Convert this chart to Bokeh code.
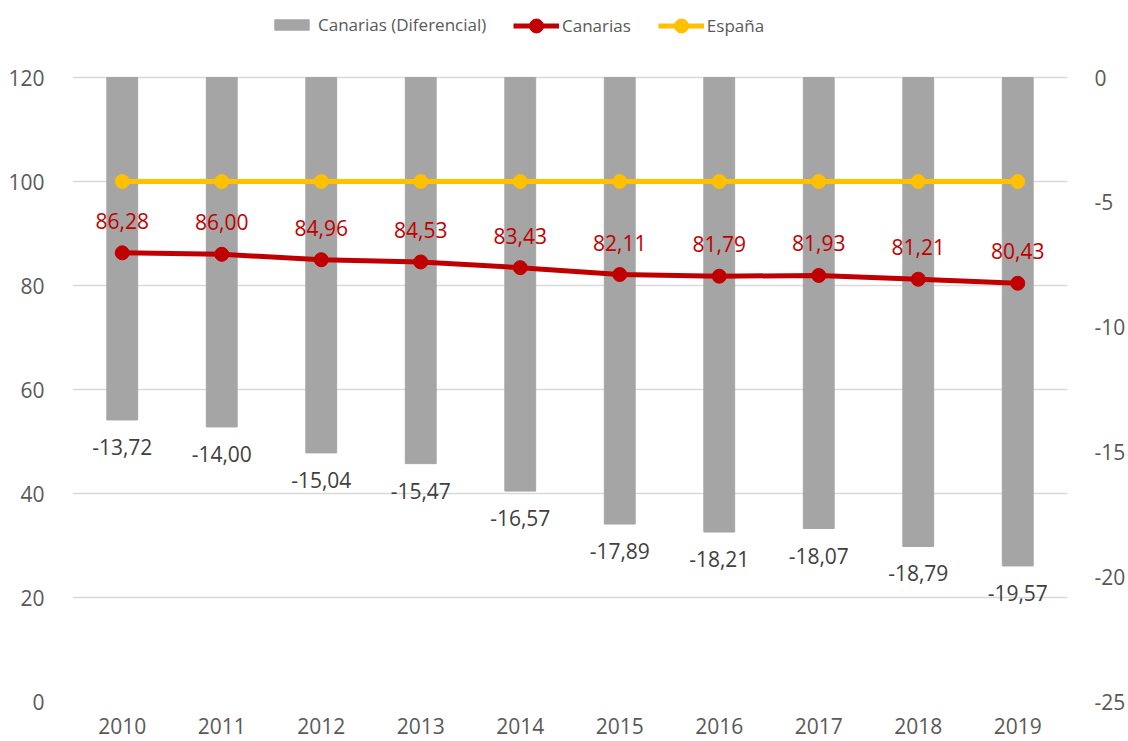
from bokeh.plotting import figure
from bokeh.models import Range1d, LinearAxis, Legend, LegendItem, FixedTicker, ColumnDataSource
from bokeh.core.properties import value
from bokeh.embed import file_html
from bokeh.resources import INLINE

years = ["2010", "2011", "2012", "2013", "2014", "2015", "2016", "2017", "2018", "2019"]
canarias = [86.28, 86.00, 84.96, 84.53, 83.43, 82.11, 81.79, 81.93, 81.21, 80.43]
espana = [100, 100, 100, 100, 100, 100, 100, 100, 100, 100]
diferencial = [-13.72, -14.00, -15.04, -15.47, -16.57, -17.89, -18.21, -18.07, -18.79, -19.57]
left_ticks = [0, 20, 40, 60, 80, 100, 120]
right_ticks = [-25, -20, -15, -10, -5, 0]

FONT = "Open Sans"
RED = "#c00000"
YEL = "#ffc000"
GRAY = "#a5a5a5"

# layout: frame spans the full height (legend lives inside, above the 120 line)
W, H = 1128, 741
FRAME_BOTTOM = 701      # pixel row of value 0 (left) / -25 (right)
TOP_LINE = 77           # pixel row of value 120 (left) / 0 (right)
span = FRAME_BOTTOM - TOP_LINE
L_TOP = 120 * FRAME_BOTTOM / span
R_TOP = 25 * TOP_LINE / span

fmt = lambda v: f"{v:.2f}".replace(".", ",")
src = ColumnDataSource(dict(
    x=years, can=canarias, esp=espana, dif=diferencial, zero=[0] * len(years),
    can_lbl=[fmt(v) for v in canarias], dif_lbl=[fmt(v) for v in diferencial],
))

p = figure(width=W, height=H, x_range=years, y_range=Range1d(0, L_TOP),
           output_backend="svg", toolbar_location=None,
           min_border_left=72, min_border_right=56, min_border_top=0, min_border_bottom=H - FRAME_BOTTOM)
p.outline_line_color = None
p.background_fill_color = "white"
p.extra_y_ranges = {"r": Range1d(-25, R_TOP)}

# bars (secondary axis)
bars = p.vbar(x="x", top="zero", bottom="dif", width=0.31, color=GRAY, y_range_name="r", source=src)
p.text(x="x", y="dif", text="dif_lbl", y_range_name="r", source=src, text_align="center",
       text_baseline="middle", y_offset=27, text_font=value(FONT), text_font_size="21px",
       text_color="#404040")

# lines
l_esp = p.line(x="x", y="esp", line_width=5, color=YEL, source=src)
s_esp = p.scatter(x="x", y="esp", size=14, color=YEL, source=src)
l_can = p.line(x="x", y="can", line_width=5, color=RED, source=src)
s_can = p.scatter(x="x", y="can", size=14, color=RED, source=src)
p.text(x="x", y="can", text="can_lbl", source=src, text_align="center",
       text_baseline="middle", y_offset=-32, text_font=value(FONT), text_font_size="21px",
       text_color=RED)

# axes
for ax in [p.yaxis[0], p.xaxis[0]]:
    ax.axis_line_color = None
    ax.major_tick_line_color = None
    ax.minor_tick_line_color = None
    ax.major_label_text_font = FONT
    ax.major_label_text_font_size = "21px"
    ax.major_label_text_color = "#595959"
p.yaxis[0].ticker = FixedTicker(ticks=left_ticks)
p.yaxis[0].major_label_standoff = 22
p.xaxis[0].major_label_standoff = 10

rax = LinearAxis(y_range_name="r", ticker=FixedTicker(ticks=right_ticks))
rax.axis_line_color = None
rax.major_tick_line_color = None
rax.minor_tick_line_color = None
rax.major_label_text_font = FONT
rax.major_label_text_font_size = "21px"
rax.major_label_text_color = "#595959"
rax.major_label_standoff = 21
rax.major_label_overrides = {t: str(t) for t in right_ticks}
p.add_layout(rax, "right")

p.xgrid.grid_line_color = None
p.ygrid.grid_line_color = "#d9d9d9"
p.ygrid.grid_line_width = 1.5
p.ygrid.ticker = FixedTicker(ticks=left_ticks)


def style_legend(lg):
    lg.padding = 0
    lg.margin = 0
    lg.border_line_color = None
    lg.background_fill_alpha = 0
    lg.label_text_font = FONT
    lg.label_text_font_size = "17px"
    lg.label_text_color = "#595959"
    lg.label_standoff = 5
    lg.spacing = 27
    lg.orientation = "horizontal"


legend_bar = Legend(items=[LegendItem(label="Canarias (Diferencial)", renderers=[bars])],
                    location=(198, 665))
style_legend(legend_bar)
legend_bar.glyph_width = 43
legend_bar.glyph_height = 13

legend_lines = Legend(items=[
    LegendItem(label="Canarias", renderers=[l_can, s_can]),
    LegendItem(label="España", renderers=[l_esp, s_esp]),
], location=(441, 658))
style_legend(legend_lines)
legend_lines.glyph_width = 46
legend_lines.glyph_height = 35
legend_lines.label_standoff = 3

p.add_layout(legend_bar, "center")
p.add_layout(legend_lines, "center")

open("out.html", "w").write(file_html(p, INLINE))
